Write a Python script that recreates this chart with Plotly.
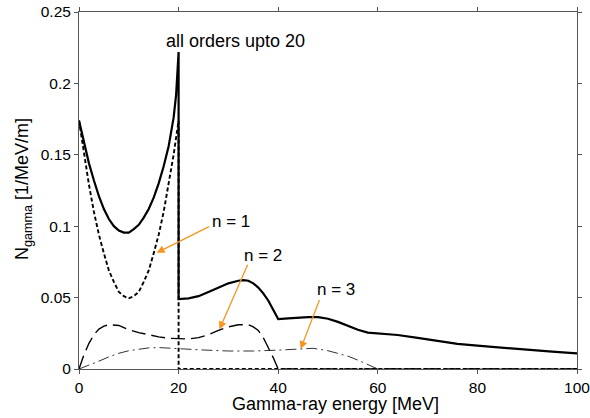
import plotly.graph_objects as go

# ---- data ----
x_all = [0, 1, 2, 3, 4, 5, 6, 7, 8, 9, 10, 11, 12, 13, 14, 15, 16, 17, 18, 19, 19.5, 20,
         20, 22, 24, 26, 28, 30, 32, 33, 34, 35, 36, 37, 38, 39, 40,
         42, 44, 46, 48, 50, 52, 54, 56, 58, 60, 64, 68, 72, 76, 80, 85, 90, 95, 100]
y_all = [0.174, 0.158, 0.144, 0.132, 0.121, 0.112, 0.105, 0.100, 0.097, 0.0955, 0.0955, 0.098,
         0.101, 0.106, 0.112, 0.120, 0.130, 0.142, 0.156, 0.176, 0.192, 0.222,
         0.049, 0.0495, 0.051, 0.054, 0.057, 0.060, 0.0618, 0.0622, 0.0618, 0.060, 0.057,
         0.053, 0.048, 0.042, 0.035,
         0.0355, 0.036, 0.0363, 0.0363, 0.0352, 0.033, 0.030, 0.0275, 0.0255, 0.0248,
         0.0238, 0.0218, 0.0195, 0.0176, 0.0163, 0.0148, 0.0134, 0.0121, 0.011]

x_n1 = [0, 1, 2, 3, 4, 5, 6, 7, 8, 9, 10, 11, 12, 13, 14, 15, 16, 17, 18, 19, 20, 20, 100]
y_n1 = [0.174, 0.150, 0.129, 0.110, 0.094, 0.081, 0.069, 0.061, 0.054, 0.051, 0.0495,
        0.051, 0.054, 0.061, 0.069, 0.081, 0.094, 0.110, 0.129, 0.150, 0.174, 0.0, 0.0]

x_n2 = [0, 1, 2, 3, 4, 5, 6, 7, 8, 9, 10, 12, 14, 16, 18, 20, 22, 24, 26, 28, 30, 32, 33,
        34, 35, 36, 37, 38, 39, 40, 100]
y_n2 = [0.0, 0.010, 0.018, 0.024, 0.028, 0.030, 0.031, 0.031, 0.0305, 0.029, 0.0275,
        0.0255, 0.0238, 0.0225, 0.0215, 0.021, 0.021, 0.022, 0.024, 0.027, 0.0295, 0.031,
        0.0312, 0.031, 0.0295, 0.027, 0.022, 0.0155, 0.008, 0.0, 0.0]

x_n3 = [0, 2, 4, 6, 8, 10, 12, 14, 16, 18, 20, 25, 30, 35, 40, 44, 47, 50, 52, 54, 56, 58, 60, 100]
y_n3 = [0.0, 0.0025, 0.0055, 0.0085, 0.011, 0.0128, 0.014, 0.0148, 0.015, 0.0146, 0.014,
        0.0133, 0.0126, 0.0126, 0.0132, 0.0142, 0.0145, 0.0128, 0.011, 0.009, 0.0062,
        0.003, 0.0, 0.0]

x_ticks = [0, 20, 40, 60, 80, 100]
y_ticks = [0, 0.05, 0.1, 0.15, 0.2, 0.25]
y_tick_labels = ["0", "0.05", "0.1", "0.15", "0.2", "0.25"]

labels = ["n = 1", "n = 2", "n = 3"]
label_x = [30.5, 37.0, 51.6]
label_y = [0.103, 0.0798, 0.0558]
arrow_tail_x = [26.4, 34.0, 48.4]
arrow_tail_y = [0.1002, 0.0741, 0.0494]
arrow_head_x = [15.6, 28.2, 44.5]
arrow_head_y = [0.0814, 0.0278, 0.014]

title_text = "all orders upto 20"
title_x, title_y = 31.4, 0.2297

x_title = "Gamma-ray energy [MeV]"
y_title = "N<sub>gamma</sub> [1/MeV/m]"

ORANGE = "#f7941d"
FONT = "Liberation Sans, Arial, sans-serif"

fig = go.Figure()
fig.add_trace(go.Scatter(x=x_n3, y=y_n3, mode="lines",
                         line=dict(color="#333333", width=1, dash="11px,4px,2px,4px")))
fig.add_trace(go.Scatter(x=x_n2, y=y_n2, mode="lines",
                         line=dict(color="black", width=1.4, dash="14px,6px")))
fig.add_trace(go.Scatter(x=x_n1, y=y_n1, mode="lines",
                         line=dict(color="black", width=1.9, dash="4px,2.5px")))
fig.add_trace(go.Scatter(x=x_all, y=y_all, mode="lines",
                         line=dict(color="black", width=2.2)))

annotations = [dict(x=title_x, y=title_y, xref="x", yref="y", text=title_text,
                    showarrow=False, font=dict(size=18, color="black", family=FONT))]
for t, lx, ly in zip(labels, label_x, label_y):
    annotations.append(dict(x=lx, y=ly, xref="x", yref="y", text=t, showarrow=False,
                            font=dict(size=17, color="black", family=FONT)))
for tx, ty, hx, hy in zip(arrow_tail_x, arrow_tail_y, arrow_head_x, arrow_head_y):
    annotations.append(dict(x=hx, y=hy, ax=tx, ay=ty, xref="x", yref="y",
                            axref="x", ayref="y", text="", showarrow=True,
                            arrowhead=2, arrowsize=1.2, arrowwidth=1.3,
                            arrowcolor=ORANGE, standoff=0, startstandoff=0))
# axis titles
annotations.append(dict(x=51.6, y=-0.099, xref="x", yref="paper", text=x_title,
                        showarrow=False, yanchor="middle",
                        font=dict(size=18, color="black", family=FONT)))
annotations.append(dict(x=-0.1124, y=0.504, xref="paper", yref="paper", text=y_title,
                        showarrow=False, textangle=-90, xanchor="center", yanchor="middle",
                        font=dict(size=18, color="black", family=FONT)))

axis_common = dict(showline=True, linecolor="#555555", linewidth=1, mirror="ticks",
                   ticks="outside", ticklen=4, tickcolor="#555555", showgrid=False,
                   zeroline=False, automargin=False, ticklabeloverflow="allow",
                   tickfont=dict(size=15.5, color="black", family=FONT))

fig.update_layout(
    width=590, height=418,
    margin=dict(l=79, r=13, t=12, b=49),
    paper_bgcolor="white", plot_bgcolor="white",
    showlegend=False,
    font=dict(family=FONT, color="black"),
    annotations=annotations,
    xaxis=dict(range=[0, 100], tickvals=x_ticks, **axis_common),
    yaxis=dict(range=[0, 0.25], tickvals=y_ticks, ticktext=y_tick_labels, **axis_common),
)

fig.write_html(
    "out.html",
    config={"displayModeBar": False},
    post_script="document.body.style.margin='0';document.body.style.overflow='hidden';",
)
